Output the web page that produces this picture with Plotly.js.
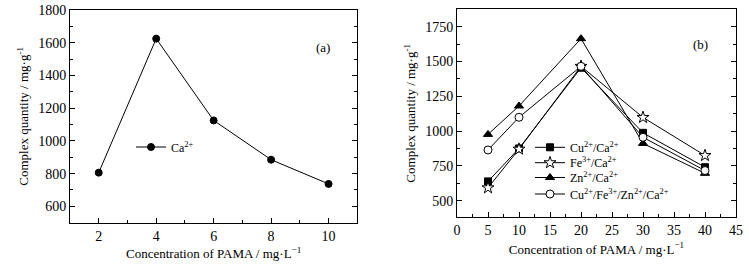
<!DOCTYPE html>
<html><head><meta charset="utf-8">
<script src="https://cdn.plot.ly/plotly-3.0.1.min.js"></script>
<style>html,body{margin:0;padding:0;background:#fff}#chart{width:749px;height:265px}</style>
</head><body><div id="chart"></div>
<script>
// Panel (a)
const xA = [2, 4, 6, 8, 10];
const caA = [806, 1625, 1125, 885, 737];
// Panel (b)
const xB = [5, 10, 20, 30, 40];
const cuCa = [638, 875, 1455, 987, 740];
const feCa = [592, 870, 1465, 1098, 824];
const znCa = [976, 1180, 1664, 911, 696];
const mixCa = [864, 1099, 1465, 955, 716];
const namesB = ['Cu<sup>2+</sup>/Ca<sup>2+</sup>', 'Fe<sup>3+</sup>/Ca<sup>2+</sup>', 'Zn<sup>2+</sup>/Ca<sup>2+</sup>', 'Cu<sup>2+</sup>/Fe<sup>3+</sup>/Zn<sup>2+</sup>/Ca<sup>2+</sup>'];
const nameA = 'Ca<sup>2+</sup>';

const F = 'Liberation Serif, Times New Roman, serif';
const W = 749, H = 265;
const line = {color: '#000', width: 1};
function mk(sym, size, fill) { return {symbol: sym, size: size, color: fill, line: {color: '#000', width: 1}}; }

const traces = [
  {x: xA, y: caA, name: nameA, mode: 'lines+markers', line: line, marker: mk('circle', 7, '#000'), xaxis: 'x', yaxis: 'y', legend: 'legend'},
  {x: xB, y: cuCa, name: namesB[0], mode: 'lines+markers', line: line, marker: mk('square', 7, '#000'), xaxis: 'x2', yaxis: 'y2', legend: 'legend2'},
  {x: xB, y: feCa, name: namesB[1], mode: 'lines+markers', line: line, marker: mk('star', 9, '#fff'), xaxis: 'x2', yaxis: 'y2', legend: 'legend3'},
  {x: xB, y: znCa, name: namesB[2], mode: 'lines+markers', line: line, marker: mk('triangle-up', 8, '#000'), xaxis: 'x2', yaxis: 'y2', legend: 'legend4'},
  {x: xB, y: mixCa, name: namesB[3], mode: 'lines+markers', line: line, marker: mk('circle', 8, '#fff'), xaxis: 'x2', yaxis: 'y2', legend: 'legend5'}
];

function px(x) { return x / W; }
function py(y) { return (H - y) / H; }

const axBase = {
  showline: true, linecolor: '#000', linewidth: 1, mirror: true,
  ticks: 'inside', ticklen: 5, tickcolor: '#000', tickwidth: 1,
  showgrid: false, zeroline: false, automargin: false,
  tickfont: {family: F, size: 14, color: '#000'}
};
function leg(x, y) {
  return {x: px(x), y: py(y), xanchor: 'left', yanchor: 'middle', bgcolor: 'rgba(0,0,0,0)',
    font: {family: F, size: 12, color: '#000'}, itemwidth: 30, borderwidth: 0};
}

const layout = {
  width: W, height: H, margin: {l: 0, r: 0, t: 0, b: 0},
  paper_bgcolor: '#fff', plot_bgcolor: '#fff',
  font: {family: F, color: '#000'},
  showlegend: true,
  xaxis: Object.assign({}, axBase, {
    domain: [px(70), px(357.3)], range: [1, 11], anchor: 'y',
    tickvals: [2, 4, 6, 8, 10],
    minor: {ticks: 'inside', tickvals: [3, 5, 7, 9], ticklen: 3, tickcolor: '#000'},
    title: {text: 'Concentration of PAMA / mg·L<sup>−1</sup>', font: {family: F, size: 13}, standoff: 6}
  }),
  yaxis: Object.assign({}, axBase, {
    domain: [py(222.7), py(10)], range: [500, 1800], anchor: 'x', mirror: 'ticks',
    tickvals: [600, 800, 1000, 1200, 1400, 1600, 1800],
    minor: {ticks: 'inside', dtick: 100, ticklen: 3, tickcolor: '#000'},
    title: {text: 'Complex quantity / mg·g<sup>-1</sup>', font: {family: F, size: 13}, standoff: 6}
  }),
  xaxis2: Object.assign({}, axBase, {
    domain: [px(457), px(736)], range: [0, 45], anchor: 'y2',
    dtick: 5,
    minor: {ticks: 'inside', dtick: 2.5, ticklen: 3, tickcolor: '#000'},
    title: {text: 'Concentration of PAMA / mg·L<sup>−1</sup>', font: {family: F, size: 13}, standoff: 7}
  }),
  yaxis2: Object.assign({}, axBase, {
    domain: [py(217.3), py(9.3)], range: [380, 1875], anchor: 'x2', mirror: 'ticks',
    tickvals: [500, 750, 1000, 1250, 1500, 1750],
    minor: {ticks: 'inside', dtick: 125, ticklen: 3, tickcolor: '#000'},
    title: {text: 'Complex quantity / mg·g<sup>-1</sup>', font: {family: F, size: 13}, standoff: 6}
  }),
  legend: leg(131, 147),
  legend2: leg(530, 147.3),
  legend3: leg(530, 162.7),
  legend4: leg(530, 177.5),
  legend5: leg(530, 194),
  annotations: [
    {text: '(a)', xref: 'paper', yref: 'paper', x: px(323), y: py(38), showarrow: false, font: {family: F, size: 13, color: '#000'}},
    {text: '(b)', xref: 'paper', yref: 'paper', x: px(710), y: py(35), showarrow: false, font: {family: F, size: 13, color: '#000'}}
  ]
};

Plotly.newPlot('chart', traces, layout, {staticPlot: true, displayModeBar: false});
</script></body></html>
